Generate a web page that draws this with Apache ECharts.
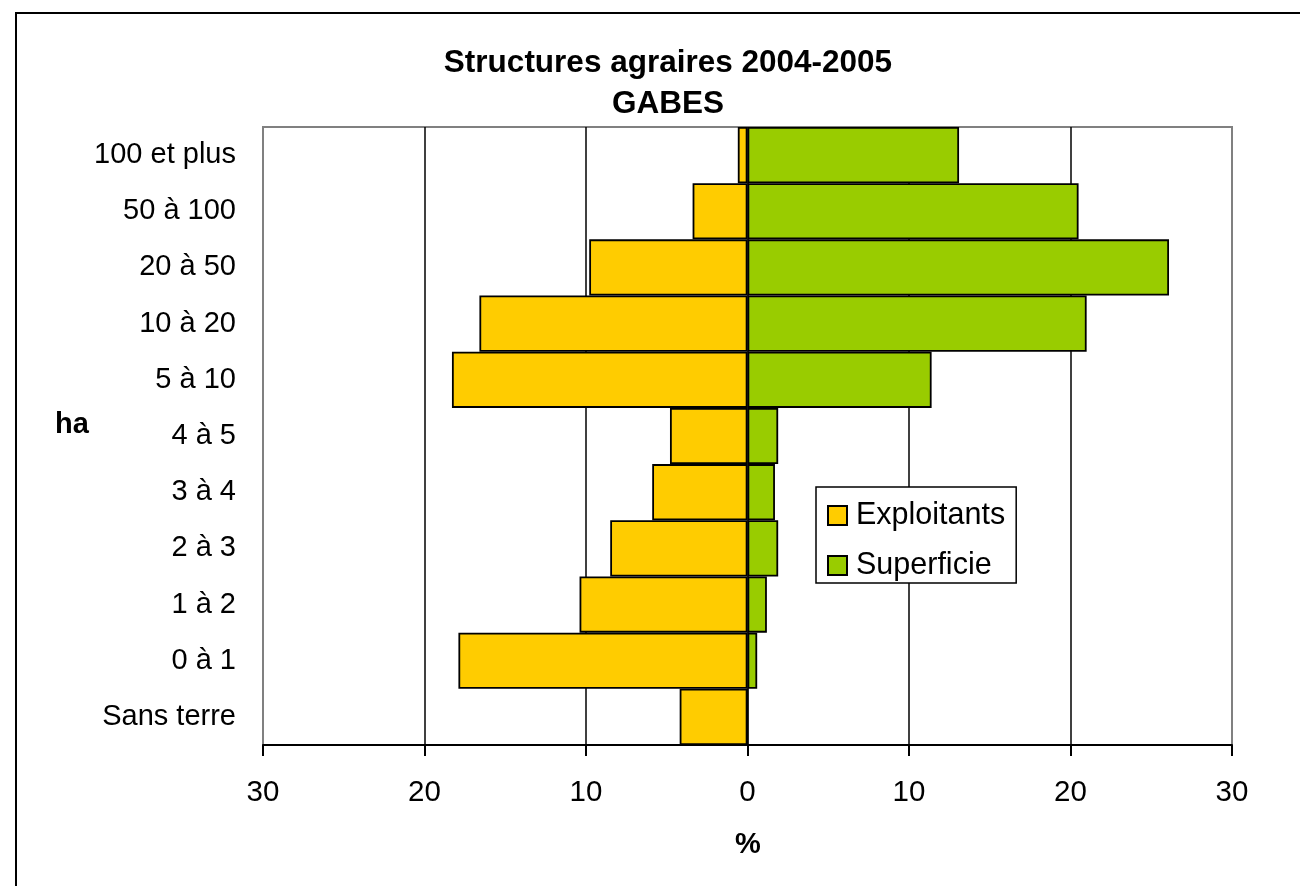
<!DOCTYPE html>
<html>
<head>
<meta charset="utf-8">
<script src="https://cdn.jsdelivr.net/npm/echarts@6/dist/echarts.min.js"></script>
<style>
html,body{margin:0;padding:0;background:#fff;}
#chart{width:1300px;height:886px;}
</style>
</head>
<body>
<div id="chart"></div>
<script>
var categories = ['100 et plus', '50 à 100', '20 à 50', '10 à 20', '5 à 10', '4 à 5', '3 à 4', '2 à 3', '1 à 2', '0 à 1', 'Sans terre'];
var exploitants = [0.6, 3.4, 9.8, 16.6, 18.3, 4.8, 5.9, 8.5, 10.4, 17.9, 4.2];
var superficie = [13.1, 20.5, 26.1, 21.0, 11.4, 1.9, 1.7, 1.9, 1.2, 0.6, 0];
var xTicks = {min: -30, max: 30, interval: 10};

var FONT = 'Liberation Sans, Arial, sans-serif';
var chart = echarts.init(document.getElementById('chart'), null, {renderer: 'canvas'});

var option = {
  backgroundColor: '#ffffff',
  animation: false,
  title: {
    text: 'Structures agraires 2004-2005\nGABES',
    left: 663,
    top: 38,
    textAlign: 'center',
    textStyle: {fontFamily: FONT, fontSize: 31.5, fontWeight: 'bold', color: '#000', lineHeight: 41}
  },
  legend: {
    orient: 'vertical',
    left: 816,
    top: 487,
    padding: [13, 11, 2, 11],
    itemGap: 19,
    itemWidth: 19,
    itemHeight: 19,
    icon: 'rect',
    backgroundColor: '#fff',
    borderColor: '#000',
    borderWidth: 1.5,
    textStyle: {fontFamily: FONT, fontSize: 30.5, color: '#000', lineHeight: 29, padding: [0, 0, 0, 4]},
    data: ['Exploitants', 'Superficie']
  },
  grid: {
    left: 263, top: 127, width: 969, height: 618,
    show: true, borderColor: '#808080', borderWidth: 2,
    outerBoundsMode: 'none',
    containLabel: false
  },
  xAxis: {
    type: 'value',
    min: xTicks.min, max: xTicks.max, interval: xTicks.interval,
    axisLine: {show: true, lineStyle: {color: '#000', width: 2}},
    axisTick: {show: true, inside: false, length: 11, lineStyle: {color: '#000', width: 2}},
    axisLabel: {
      fontFamily: FONT, fontSize: 29.5, color: '#000', margin: 33,
      formatter: function (v) { return String(Math.abs(v)); }
    },
    splitLine: {show: true, showMinLine: false, showMaxLine: false, lineStyle: {color: '#000', width: 1.5}}
  },
  yAxis: {
    type: 'category',
    data: categories,
    inverse: true,
    axisLine: {show: false},
    axisTick: {show: false},
    axisLabel: {fontFamily: FONT, fontSize: 29, color: '#000', margin: 27},
    splitLine: {show: false}
  },
  series: [
    {
      name: 'Exploitants',
      type: 'bar',
      data: exploitants.map(function (v) { return -v; }),
      barGap: '-100%',
      barCategoryGap: 0,
      itemStyle: {color: '#FFCC00', borderColor: '#000', borderWidth: 1.8}
    },
    {
      name: 'Superficie',
      type: 'bar',
      data: superficie,
      barGap: '-100%',
      barCategoryGap: 0,
      itemStyle: {color: '#99CC00', borderColor: '#000', borderWidth: 1.8}
    }
  ],
  graphic: [
    {
      type: 'rect', silent: true, z: 100,
      shape: {x: 16, y: 13, width: 1320, height: 900},
      style: {fill: 'none', stroke: '#000', lineWidth: 2}
    },
    {
      type: 'text', left: 55, top: 410, z: 100,
      style: {text: 'ha', fontFamily: FONT, fontSize: 29, fontWeight: 'bold', fill: '#000'}
    },
    {
      type: 'text', x: 748, y: 845, z: 100,
      style: {text: '%', fontFamily: FONT, fontSize: 29, fontWeight: 'bold', fill: '#000', align: 'center', verticalAlign: 'middle'}
    }
  ]
};
chart.setOption(option);
</script>
</body>
</html>
